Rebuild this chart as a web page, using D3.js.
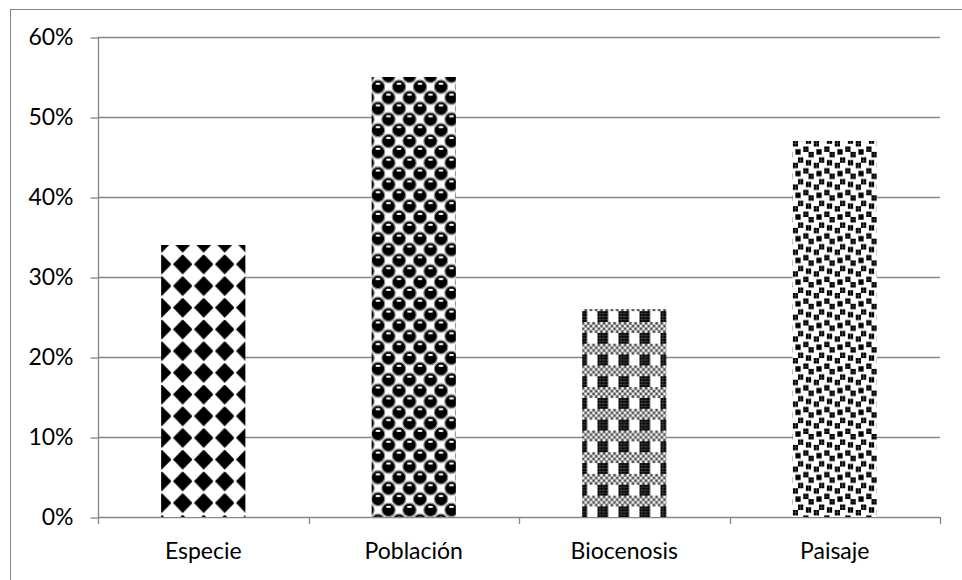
<!DOCTYPE html>
<html>
<head>
<meta charset="utf-8">
<script src="https://cdn.jsdelivr.net/npm/d3@7"></script>
<style>
  html, body { margin: 0; padding: 0; background: #fff; }
  svg { display: block; }
  text { font-family: Lato, "Open Sans", sans-serif; fill: #000; }
</style>
</head>
<body>
<svg id="chart" width="962" height="580"></svg>
<script>
// Share of responses per level of organisation
const categories = ["Especie", "Población", "Biocenosis", "Paisaje"];
const values = [0.34, 0.55, 0.26, 0.47];
const yTicks = [0, 0.1, 0.2, 0.3, 0.4, 0.5, 0.6];
const fillIds = ["pat-diamond", "pat-sphere", "pat-plaid", "pat-confetti"];

const W = 962, H = 580;
const plot = { left: 98, right: 940, top: 37, bottom: 517 };
const axisColor = "#868686";

const svg = d3.select("#chart");

// ---- hatch patterns (8x8 cell tiles) ----
const tileW = 21, tileH = 21.7;
const cw = tileW / 8, ch = tileH / 8;
const defs = svg.append("defs");

function makePattern(id, ox, oy) {
  const p = defs.append("pattern").attr("id", id)
    .attr("patternUnits", "userSpaceOnUse")
    .attr("x", ox).attr("y", oy)
    .attr("width", tileW).attr("height", tileH);
  p.append("rect").attr("width", tileW).attr("height", tileH).attr("fill", "#fff");
  return p;
}

function drawBits(p, rows, colour) {
  rows.forEach((bits, r) => {
    for (let c = 0; c < 8; c++) {
      if (bits & (0x80 >> c)) {
        p.append("rect")
          .attr("x", c * cw).attr("y", r * ch)
          .attr("width", cw + 0.02).attr("height", ch + 0.02)
          .attr("fill", colour);
      }
    }
  });
}

// solid diamonds
{
  const cx = 4.5 * cw, cy = 3.5 * ch;
  const p = makePattern("pat-diamond", 161.7 - cx, 503 - cy);
  const rx = 3.6 * cw, ry = 3.6 * ch;
  p.append("path")
    .attr("d", `M${cx},${cy - ry}L${cx + rx},${cy}L${cx},${cy + ry}L${cx - rx},${cy}Z`)
    .attr("fill", "#000")
    .attr("stroke", "#000").attr("stroke-width", 0.6).attr("stroke-linejoin", "round");
}

// spheres in offset rows
{
  const p = makePattern("pat-sphere", 0, 0);
  const centres = [[0, 0], [tileW, 0], [0, tileH], [tileW, tileH], [tileW / 2, tileH / 2]];
  centres.forEach(([x, y]) => {
    p.append("circle").attr("cx", x).attr("cy", y).attr("r", 6.7)
      .attr("fill", "#000").attr("stroke", "#8a8a8a").attr("stroke-width", 1.2);
    p.append("ellipse").attr("cx", x).attr("cy", y - 3).attr("rx", 2.6).attr("ry", 1.1)
      .attr("fill", "#fff");
  });
}

// plaid: fine checker band over half-black columns
{
  const p = makePattern("pat-plaid", 597.5, 322);
  drawBits(p, [0xaa, 0x55, 0xaa, 0x55, 0, 0, 0, 0], "#4a4a4a");
  drawBits(p, [0, 0, 0, 0, 0xf0, 0xf0, 0xf0, 0xf0], "#000");
}

// large confetti
{
  const p = makePattern("pat-confetti", 0, 0);
  drawBits(p, [0x8d, 0x0c, 0xc0, 0xd8, 0x1b, 0x03, 0x30, 0xb1], "#000");
}

// ---- scales ----
const x = d3.scaleBand()
  .domain(categories)
  .range([plot.left, plot.right])
  .paddingInner(0.6)
  .paddingOuter(0.3);

const y = d3.scaleLinear()
  .domain([0, 0.6])
  .range([plot.bottom, plot.top]);

// outer chart border
svg.append("rect")
  .attr("x", 10.5).attr("y", 9.5)
  .attr("width", W).attr("height", H)
  .attr("fill", "none").attr("stroke", axisColor).attr("stroke-width", 1);

// horizontal gridlines
svg.append("g")
  .selectAll("line")
  .data(yTicks)
  .join("line")
  .attr("x1", plot.left).attr("x2", plot.right)
  .attr("y1", d => Math.round(y(d)) + 0.5).attr("y2", d => Math.round(y(d)) + 0.5)
  .attr("stroke", axisColor).attr("stroke-width", 1.3);

// bars
svg.append("g")
  .selectAll("rect")
  .data(categories)
  .join("rect")
  .attr("x", d => x(d))
  .attr("y", (d, i) => y(values[i]))
  .attr("width", x.bandwidth())
  .attr("height", (d, i) => y(0) - y(values[i]))
  .attr("fill", (d, i) => `url(#${fillIds[i]})`);

// y axis
const yAxis = d3.axisLeft(y)
  .tickValues(yTicks)
  .tickFormat(d3.format(".0%"))
  .tickSize(8)
  .tickPadding(17);

const gy = svg.append("g")
  .attr("transform", `translate(${plot.left + 0.5},0.5)`)
  .call(yAxis);
gy.select(".domain").attr("stroke", axisColor).attr("stroke-width", 1.3)
  .attr("d", `M0,${plot.top}V${plot.bottom}`);
gy.selectAll(".tick line").attr("stroke", axisColor).attr("stroke-width", 1.3);
gy.selectAll(".tick text")
  .attr("font-family", "Lato, 'Open Sans', sans-serif")
  .attr("font-size", 23)
  .attr("fill", "#000");

// x axis: tick marks on category boundaries, labels centred
const boundaries = d3.range(categories.length + 1)
  .map(i => plot.left + i * x.step());

svg.append("g")
  .selectAll("line")
  .data(boundaries)
  .join("line")
  .attr("x1", d => Math.round(d) + 0.5).attr("x2", d => Math.round(d) + 0.5)
  .attr("y1", plot.bottom).attr("y2", plot.bottom + 7)
  .attr("stroke", axisColor).attr("stroke-width", 1.3);

svg.append("g")
  .selectAll("text")
  .data(categories)
  .join("text")
  .attr("x", d => x(d) + x.bandwidth() / 2)
  .attr("y", plot.bottom + 42)
  .attr("text-anchor", "middle")
  .attr("font-size", 23)
  .text(d => d);
</script>
</body>
</html>
